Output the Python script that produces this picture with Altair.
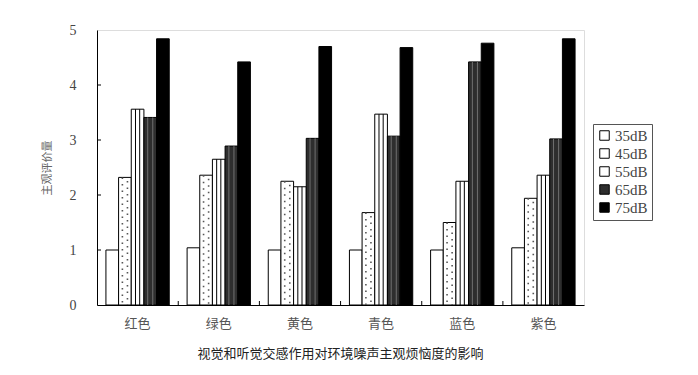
import altair as alt
import pandas as pd

categories = ["红色", "绿色", "黄色", "青色", "蓝色", "紫色"]
levels = ["35dB", "45dB", "55dB", "65dB", "75dB"]
v35 = [1.0, 1.04, 1.0, 1.0, 1.0, 1.04]
v45 = [2.32, 2.36, 2.25, 1.68, 1.50, 1.94]
v55 = [3.56, 2.65, 2.15, 3.47, 2.25, 2.36]
v65 = [3.41, 2.89, 3.03, 3.07, 4.42, 3.02]
v75 = [4.84, 4.42, 4.70, 4.68, 4.76, 4.84]
y_ticks = [1, 2, 3, 4]

series = [v35, v45, v55, v65, v75]
rows = []
for lv, vals in zip(levels, series):
    for c, v in zip(categories, vals):
        rows.append({"色彩": c, "声级": lv, "值": v})
df = pd.DataFrame(rows)

fills = ["#ffffff", "#ffffff", "#ffffff", "#2e2e2e", "#000000"]

W, H = 487, 275

xscale = alt.Scale(domain=categories, paddingInner=0.22, paddingOuter=0.11)
offscale = alt.Scale(domain=levels, paddingInner=0, paddingOuter=0)
yscale = alt.Scale(domain=[0, 5], nice=False)

x_enc = alt.X("色彩:N", sort=categories, scale=xscale,
              axis=alt.Axis(title=None, ticks=False, labelAngle=0, labelFont="Noto Sans CJK SC",
                            labelFontSize=13, labelColor="#555555", labelPadding=12,
                            domainColor="#000000"))
xo_enc = alt.XOffset("声级:N", sort=levels, scale=offscale)
y_enc = alt.Y("值:Q", scale=yscale,
              axis=alt.Axis(title="主观评价量", values=[0, 1, 2, 3, 4, 5], ticks=False,
                            grid=False, labelFont="Liberation Serif", labelFontSize=14,
                            labelColor="#444444", labelPadding=21, titleFont="Noto Sans CJK SC",
                            titleFontSize=11, titleColor="#666666", titleFontWeight="normal",
                            titlePadding=17, domainColor="#000000"))

bars = alt.Chart(df).mark_bar(stroke="#000000", strokeWidth=1).encode(
    x=x_enc, xOffset=xo_enc, y=y_enc,
    fill=alt.Fill("声级:N", sort=levels,
                  scale=alt.Scale(domain=levels, range=fills),
                  legend=alt.Legend(title=None, orient="none", legendX=496, legendY=94,
                                    symbolType="square", symbolSize=90,
                                    symbolStrokeColor="#000000", symbolStrokeWidth=1,
                                    labelFont="Liberation Serif", labelFontSize=15,
                                    labelColor="#444444", rowPadding=2,
                                    strokeColor="#555555", padding=4, labelOffset=3)),
)


def inner(level, pos, color, width, dash=None, dash_off=0):
    kw = dict(color=color, strokeWidth=width)
    if dash:
        kw["strokeDash"] = dash
        kw["strokeDashOffset"] = dash_off
    return alt.Chart(df).transform_filter(alt.datum["声级"] == level).mark_rule(**kw).encode(
        x=alt.X("色彩:N", sort=categories, bandPosition=pos),
        y="值:Q", y2=alt.datum(0))


# fractions of the group band where the texture lines sit (5 sub-bars per band)
dots1 = inner("45dB", 0.26, "#555555", 1.6, [1.5, 5], 0)
dots2 = inner("45dB", 0.34, "#555555", 1.6, [1.5, 5], 3)
str1 = inner("55dB", 0.467, "#000000", 1)
str2 = inner("55dB", 0.533, "#000000", 1)
drk1 = inner("65dB", 0.66, "#707070", 1)
drk2 = inner("65dB", 0.74, "#707070", 1)

yt = alt.Chart(pd.DataFrame({"t": y_ticks})).mark_rule(color="#000000").encode(
    y="t:Q", x=alt.value(0), x2=alt.value(4))

xt = alt.Chart(pd.DataFrame({"色彩": categories[:-1]})).mark_rule(color="#000000", xOffset=9).encode(
    x=alt.X("色彩:N", sort=categories, bandPosition=1), y=alt.value(H), y2=alt.value(H - 4))

chart = alt.layer(bars, dots1, dots2, str1, str2, drk1, drk2, yt, xt).properties(
    width=W, height=H,
    title=alt.TitleParams("视觉和听觉交感作用对环境噪声主观烦恼度的影响", orient="bottom",
                          font="Noto Sans CJK SC", fontSize=13, fontWeight="normal",
                          color="#222222", offset=18, anchor="middle"),
    padding={"left": 89, "top": 22, "right": 100, "bottom": 58},
    autosize=alt.AutoSizeParams(type="none"),
).configure_view(stroke="#000000", strokeWidth=1).configure(background="#ffffff")

chart.save("out.html", embed_options={"renderer": "svg", "actions": False})
